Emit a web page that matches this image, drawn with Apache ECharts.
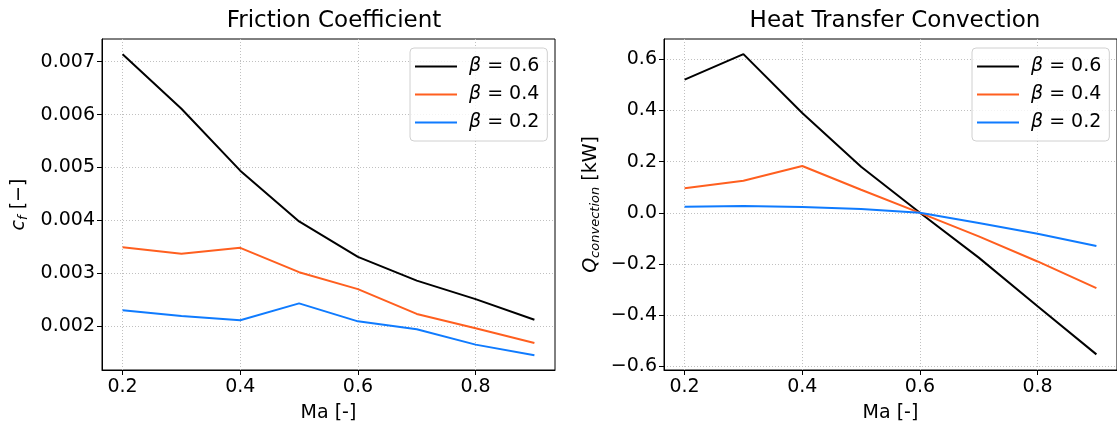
<!DOCTYPE html>
<html>
<head>
  <meta charset="UTF-8">
  <title>Friction / Heat Transfer</title>
  <script src="https://cdn.jsdelivr.net/npm/echarts@6/dist/echarts.min.js"></script>
  <style>
    html, body { margin: 0; padding: 0; background: #fff; }
  </style>
</head>
<body>
  <div id="main" style="width: 1117px; height: 428px;"></div>

  <script>
    // Mach numbers
    const ma = [0.2, 0.3, 0.4, 0.5, 0.6, 0.7, 0.8, 0.9];

    // friction coefficient c_f [-]
    const cfB06 = [0.00714, 0.00611, 0.00494, 0.00398, 0.00331, 0.00286, 0.00251, 0.00212];
    const cfB04 = [0.00349, 0.00337, 0.00348, 0.00302, 0.00270, 0.00223, 0.00196, 0.00168];
    const cfB02 = [0.00230, 0.00219, 0.00211, 0.00243, 0.00209, 0.00194, 0.00165, 0.00145];

    // convective heat transfer [kW]
    const qB06 = [0.52, 0.62, 0.39, 0.18, 0.0, -0.175, -0.365, -0.553];
    const qB04 = [0.096, 0.125, 0.183, 0.09, 0.0, -0.092, -0.19, -0.294];
    const qB02 = [0.024, 0.027, 0.023, 0.015, 0.0, -0.04, -0.082, -0.13];

    const xTicks = [0.2, 0.4, 0.6, 0.8];
    const cfTicks = [0.002, 0.003, 0.004, 0.005, 0.006, 0.007];
    const qTicks = [-0.6, -0.4, -0.2, 0.0, 0.2, 0.4, 0.6];

    const names = ['β = 0.6', 'β = 0.4', 'β = 0.2'];
    const colors = ['#000000', '#ff5f1f', '#0f7bff'];

    const font = 'DejaVu Sans';
    const fs = 19;
    const pair = (ys) => ma.map((x, i) => [x, ys[i]]);

    const gridLine = { show: true, lineStyle: { color: '#c0c0c0', type: [1, 2], width: 1 } };

    function xAxis(gridIndex) {
      return {
        type: 'value', gridIndex, min: 0.165, max: 0.935,
        name: 'Ma [-]', nameLocation: 'middle', nameGap: 34,
        nameTextStyle: { fontFamily: font, fontSize: fs, color: '#000' },
        axisLine: { show: true, onZero: false, lineStyle: { color: '#000', width: 1 } },
        axisTick: { show: true, length: 5, customValues: xTicks, lineStyle: { color: '#000' } },
        axisLabel: { customValues: xTicks, fontFamily: font, fontSize: fs, color: '#000', margin: 8,
          formatter: (v) => v.toFixed(1) },
        splitLine: gridLine
      };
    }

    function yAxis(gridIndex, min, max, ticks, digits, name, gap) {
      return {
        type: 'value', gridIndex, min, max,
        name, nameLocation: 'middle', nameGap: gap, nameRotate: 90,
        nameTextStyle: {
          fontFamily: font, fontSize: fs, color: '#000',
          rich: {
            i: { fontFamily: font, fontSize: fs, fontStyle: 'italic', color: '#000' },
            sub: { fontFamily: font, fontSize: 13, fontStyle: 'italic', color: '#000', verticalAlign: 'bottom', padding: [8, 0, 0, 0] },
            t: { fontFamily: font, fontSize: fs, color: '#000' }
          }
        },
        axisLine: { show: true, lineStyle: { color: '#000', width: 1 } },
        axisTick: { show: true, length: 5, customValues: ticks, lineStyle: { color: '#000' } },
        axisLabel: { customValues: ticks, fontFamily: font, fontSize: fs, color: '#000', margin: 7,
          formatter: (v) => v.toFixed(digits).replace('-', '\u2212') },
        splitLine: gridLine
      };
    }

    function legend(left) {
      return {
        left, top: 48, orient: 'vertical',
        data: names,
        icon: 'rect', itemWidth: 42, itemHeight: 2, itemGap: 9,
        padding: [9, 8, 9, 5],
        borderColor: '#d0d0d0', borderWidth: 1, borderRadius: 4,
        backgroundColor: 'rgba(255,255,255,0.8)',
        selectedMode: false,
        formatter: (n) => '{b|β} = ' + n.slice(4),
        textStyle: {
          fontFamily: font, fontSize: fs, color: '#000', padding: [0, 0, 0, 7],
          rich: { b: { fontFamily: font, fontSize: fs, fontStyle: 'italic', color: '#000' } }
        }
      };
    }

    function lineSeries(name, data, color, idx) {
      return {
        name, type: 'line', data, xAxisIndex: idx, yAxisIndex: idx,
        symbol: 'none', color,
        lineStyle: { color, width: 2 },
        animation: false
      };
    }

    const option = {
      animation: false,
      title: [
        { text: 'Friction Coefficient', left: 329, top: 5, textAlign: 'center',
          textStyle: { fontFamily: font, fontSize: 23, fontWeight: 'normal', color: '#000' } },
        { text: 'Heat Transfer Convection', left: 890, top: 5, textAlign: 'center',
          textStyle: { fontFamily: font, fontSize: 23, fontWeight: 'normal', color: '#000' } }
      ],
      legend: [legend(410), legend(972)],
      grid: [
        { left: 102, top: 39, width: 453, height: 334, show: true, borderColor: '#000', borderWidth: 1, backgroundColor: 'transparent' },
        { left: 664, top: 39, width: 453, height: 334, show: true, borderColor: '#000', borderWidth: 1, backgroundColor: 'transparent' }
      ],
      xAxis: [xAxis(0), xAxis(1)],
      yAxis: [
        yAxis(0, 0.00117, 0.00743, cfTicks, 3, '{i|c}{sub|f} {t|[\u2212]}', 72),
        yAxis(1, -0.614, 0.679, qTicks, 1, '{i|Q}{sub|convection} {t|[kW]}', 62)
      ],
      series: [
        lineSeries(names[0], pair(cfB06), colors[0], 0),
        lineSeries(names[1], pair(cfB04), colors[1], 0),
        lineSeries(names[2], pair(cfB02), colors[2], 0),
        lineSeries(names[0], pair(qB06), colors[0], 1),
        lineSeries(names[1], pair(qB04), colors[1], 1),
        lineSeries(names[2], pair(qB02), colors[2], 1)
      ]
    };

    const chart = echarts.init(document.getElementById('main'), null, { renderer: 'canvas' });
    chart.setOption(option);
  </script>
</body>
</html>
